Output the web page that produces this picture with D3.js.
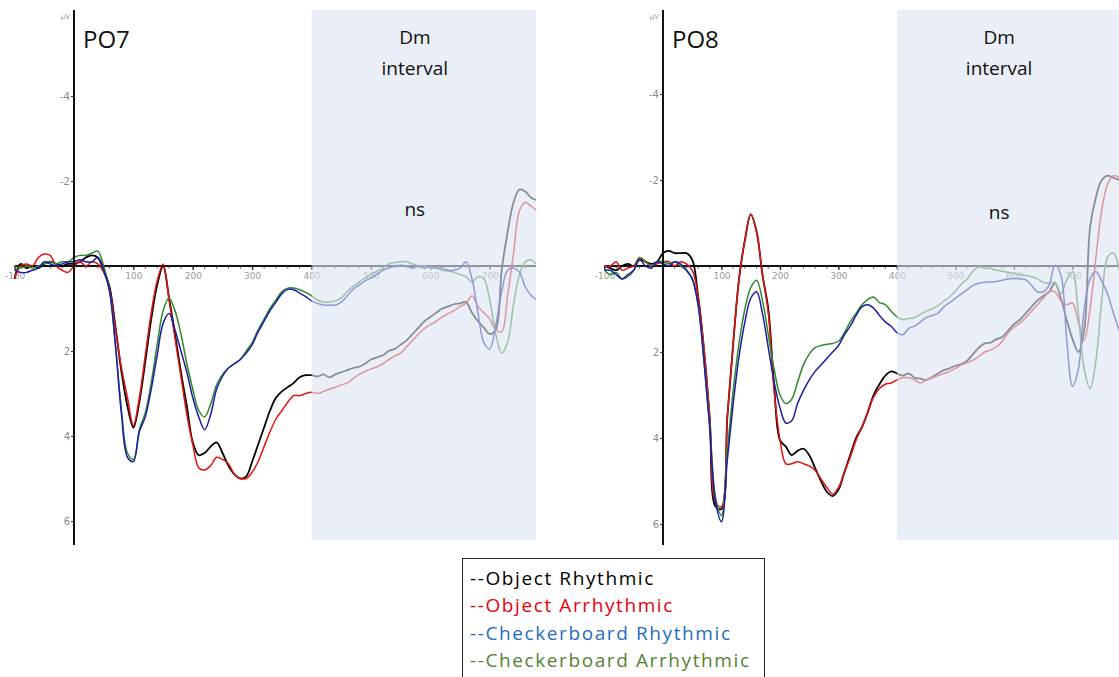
<!DOCTYPE html>
<html>
<head>
<meta charset="utf-8">
<script src="https://cdn.jsdelivr.net/npm/d3@7"></script>
<style>
  html, body { margin: 0; padding: 0; background: #ffffff; }
  svg { display: block; }
</style>
</head>
<body>
<svg id="chart" width="1119" height="677"></svg>
<script>
// ---- sampling grid (ms) ----
const times = [-100,-90,-80,-70,-60,-50,-40,-30,-20,-10,0,10,20,30,40,50,60,70,80,90,100,110,120,130,140,150,160,170,180,190,200,210,220,230,240,250,260,270,280,290,300,310,320,330,340,350,360,370,380,390,400,410,420,430,440,450,460,470,480,490,500,510,520,530,540,550,560,570,580,590,600,610,620,630,640,650,660,670,680,690,700,710,720,730,740,750,760,770,780];

// ---- series names / legend ----
const seriesNames = ["Object Rhythmic", "Object Arrhythmic", "Checkerboard Rhythmic", "Checkerboard Arrhythmic"];
const panelNames = ["PO7", "PO8"];

// ---- PO7 (µV) ----
const po7ObjectRhythmic = [0.3,-0.05,0.05,0.0,0.05,-0.05,-0.1,-0.05,0.0,-0.05,-0.05,-0.1,-0.2,-0.25,-0.2,0.1,0.5,1.45,2.5,3.3,3.8,3.2,2.25,1.25,0.45,0.0,0.75,1.6,2.5,3.3,4.15,4.45,4.4,4.25,4.15,4.4,4.7,4.9,5.0,4.95,4.6,4.2,3.8,3.4,3.1,2.95,2.85,2.75,2.62,2.57,2.57,2.6,2.55,2.62,2.55,2.5,2.45,2.4,2.37,2.3,2.2,2.15,2.1,2.0,1.95,1.85,1.75,1.6,1.45,1.3,1.2,1.1,1.0,0.95,0.9,0.88,0.85,1.1,1.3,1.45,1.6,1.5,0.1,-0.8,-1.5,-1.8,-1.75,-1.6,-1.55];
const po7ObjectArrhythmic = [0.3,0.0,-0.05,0.0,-0.2,-0.28,-0.25,0.0,0.1,0.15,0.0,-0.1,0.0,-0.1,-0.05,0.15,0.55,1.5,2.4,3.1,3.75,3.1,2.1,1.1,0.35,-0.05,0.8,1.7,2.6,3.5,4.2,4.75,4.8,4.7,4.5,4.55,4.65,4.9,5.0,5.0,4.85,4.6,4.25,3.9,3.6,3.4,3.2,3.05,3.05,3.0,2.97,3.0,2.95,2.9,2.85,2.8,2.75,2.65,2.55,2.48,2.42,2.37,2.3,2.2,2.12,2.05,1.9,1.75,1.6,1.47,1.38,1.3,1.2,1.12,1.05,0.95,0.88,0.7,0.95,1.1,1.25,1.5,1.55,0.7,-0.3,-1.3,-1.5,-1.4,-1.3];
const po7CheckerRhythmic = [0.1,0.15,0.15,0.1,0.05,-0.1,-0.05,0.0,-0.05,-0.1,-0.1,-0.15,-0.1,-0.1,-0.2,0.1,0.6,1.9,3.5,4.5,4.6,3.9,3.55,2.9,2.1,1.35,1.12,1.5,2.0,2.5,3.1,3.55,3.85,3.5,2.9,2.6,2.4,2.3,2.2,2.05,1.85,1.55,1.3,1.05,0.85,0.65,0.55,0.56,0.64,0.72,0.82,0.88,0.92,0.92,0.92,0.85,0.7,0.55,0.45,0.35,0.28,0.2,0.1,0.05,0.0,-0.02,0.0,0.05,0.0,0.05,0.0,0.05,0.05,0.1,0.1,0.05,-0.1,0.3,1.1,1.8,1.95,1.4,0.6,0.1,0.05,0.15,0.5,0.7,0.8];
const po7CheckerArrhythmic = [0.0,0.05,0.0,0.05,0.0,-0.05,-0.1,-0.05,-0.1,-0.1,-0.2,-0.25,-0.25,-0.3,-0.35,0.0,0.6,1.9,3.4,4.4,4.55,3.85,3.45,2.75,1.85,1.05,0.75,1.05,1.6,2.3,2.9,3.4,3.55,3.25,2.8,2.55,2.4,2.3,2.2,2.0,1.8,1.5,1.25,1.0,0.8,0.6,0.52,0.52,0.56,0.62,0.7,0.8,0.85,0.84,0.82,0.75,0.6,0.48,0.38,0.28,0.2,0.12,0.05,-0.05,-0.08,-0.1,-0.1,-0.05,0.0,0.0,0.05,0.05,0.1,0.12,0.15,0.2,0.25,0.38,0.25,0.3,0.8,1.6,2.05,1.8,0.9,0.2,-0.1,-0.14,0.0];

// ---- PO8 (µV) ----
const po8ObjectRhythmic = [0.0,0.05,0.1,0.0,-0.05,0.0,-0.15,-0.1,-0.05,-0.1,-0.3,-0.35,-0.3,-0.3,-0.3,-0.15,0.7,1.95,3.6,5.6,5.65,3.5,1.8,0.3,-0.6,-1.2,-0.8,0.2,1.0,2.8,4.05,4.2,4.4,4.3,4.25,4.4,4.7,5.0,5.25,5.35,5.2,4.8,4.4,4.0,3.75,3.4,3.0,2.75,2.55,2.45,2.5,2.55,2.5,2.6,2.62,2.65,2.58,2.5,2.42,2.38,2.32,2.28,2.2,2.05,1.9,1.8,1.78,1.7,1.65,1.5,1.35,1.25,1.1,0.95,0.8,0.7,0.6,0.4,0.75,1.25,1.7,2.0,1.5,-0.9,-1.6,-2.0,-2.1,-2.05,-2.0];
const po8ObjectArrhythmic = [0.0,0.0,-0.1,0.1,0.05,0.0,-0.2,-0.1,0.0,-0.05,-0.1,-0.1,0.0,-0.1,-0.05,0.1,0.7,1.9,3.5,5.5,5.6,3.5,1.8,0.3,-0.6,-1.2,-0.8,0.2,1.1,2.9,4.05,4.6,4.6,4.55,4.6,4.65,4.75,4.95,5.15,5.3,5.15,4.8,4.45,4.05,3.75,3.4,3.05,2.85,2.75,2.72,2.65,2.6,2.6,2.65,2.72,2.65,2.6,2.55,2.5,2.45,2.38,2.3,2.25,2.19,2.1,2.0,1.95,1.88,1.75,1.55,1.42,1.33,1.2,1.05,0.9,0.75,0.6,0.6,0.8,0.9,0.86,1.3,1.72,1.0,-0.2,-1.3,-1.9,-2.1,-2.05];
const po8CheckerRhythmic = [0.1,0.1,0.2,0.3,0.2,0.1,-0.15,0.0,0.05,-0.1,-0.05,0.0,-0.1,-0.05,0.1,0.3,0.9,2.2,3.8,5.5,5.95,4.5,3.2,2.1,1.3,0.75,0.6,1.1,1.9,2.7,3.3,3.65,3.6,3.2,2.9,2.65,2.45,2.3,2.15,2.0,1.85,1.6,1.4,1.15,0.95,0.9,0.98,1.15,1.3,1.4,1.55,1.6,1.45,1.4,1.3,1.2,1.15,1.1,0.95,0.85,0.75,0.65,0.55,0.45,0.4,0.38,0.37,0.36,0.33,0.3,0.29,0.3,0.32,0.45,0.6,0.6,0.45,-0.02,0.2,1.7,2.8,2.4,1.0,0.3,0.13,0.35,0.65,1.1,1.5];
const po8CheckerArrhythmic = [0.1,0.2,0.15,0.3,0.25,0.1,-0.2,-0.1,0.0,-0.1,-0.1,-0.05,-0.1,0.0,0.1,0.3,0.9,2.2,3.7,5.4,5.8,4.3,2.9,1.8,1.0,0.5,0.33,0.8,1.6,2.4,3.0,3.2,3.1,2.7,2.3,2.05,1.9,1.85,1.82,1.8,1.75,1.55,1.3,1.1,0.9,0.78,0.72,0.85,0.9,1.05,1.18,1.25,1.22,1.2,1.12,1.05,1.0,0.92,0.82,0.72,0.58,0.42,0.3,0.12,0.02,0.05,0.06,0.1,0.12,0.15,0.17,0.2,0.22,0.25,0.3,0.38,0.4,0.38,0.64,0.33,0.13,1.1,2.4,2.85,2.2,0.8,-0.2,-0.3,0.1];

// ---- ticks / annotations ----
const xTickLabels = [-100,0,100,200,300,400,500,600,700,800];
const yTickLabels = [-4,-2,2,4,6];
const dmInterval = [400, 800];
const dmText = ["Dm", "interval"];
const sigText = "ns";

// ---- styles ----
const lineColors = ["#000000", "#e3140f", "#1c1ca8", "#2f8a2c"];
const legendColors = ["#000000", "#e8000b", "#1f6dbf", "#548235"];

const svg = d3.select("#chart");
const W = 1119, H = 677;

const panels = [
  { name: panelNames[0], data: [po7ObjectRhythmic, po7ObjectArrhythmic, po7CheckerRhythmic, po7CheckerArrhythmic],
    x0: 74, pxPerMs: 0.594, right: 536, y0: 266, pxPerUv: 42.5 },
  { name: panelNames[1], data: [po8ObjectRhythmic, po8ObjectArrhythmic, po8CheckerRhythmic, po8CheckerArrhythmic],
    x0: 663, pxPerMs: 0.585, right: 1119, y0: 266, pxPerUv: 43 }
];
const drawOrder = [0, 1, 3, 2];
const fontMain = "'Open Sans', 'Noto Sans', sans-serif";

panels.forEach((p, pi) => {
  const x = d3.scaleLinear().domain([0, 100]).range([p.x0, p.x0 + 100 * p.pxPerMs]);
  const y = d3.scaleLinear().domain([0, 1]).range([p.y0, p.y0 + p.pxPerUv]);
  const left = x(-100);
  const top = 10, bottom = 545;
  const g = svg.append("g");

  const clipId = "clip" + pi;
  svg.append("clipPath").attr("id", clipId).append("rect")
    .attr("x", 0).attr("y", 0).attr("width", p.right).attr("height", H);

  // x axis (zero line)
  g.append("line").attr("x1", left).attr("x2", p.right).attr("y1", y(0)).attr("y2", y(0))
    .attr("stroke", "#111").attr("stroke-width", 2);

  // minor ticks
  const minor = d3.range(-100, 801, 20);
  g.append("g").attr("clip-path", `url(#${clipId})`).selectAll("line").data(minor).join("line")
    .attr("x1", d => x(d)).attr("x2", d => x(d)).attr("y1", y(0)).attr("y2", y(0) + 2.5)
    .attr("stroke", "#444").attr("stroke-width", 1);

  // x axis labels (only those that fit inside the panel)
  const fitting = xTickLabels.filter(d => x(d) + 8 <= p.right);
  const xAxis = d3.axisBottom(x).tickValues(fitting).tickSize(4).tickFormat(d => d === 0 ? "" : String(d));
  const xa = g.append("g").attr("transform", `translate(0,${y(0)})`).call(xAxis);
  xa.select(".domain").remove();
  xa.selectAll(".tick line").attr("stroke", "#222").attr("stroke-width", 1.2);
  xa.selectAll(".tick text").attr("fill", "#9a9a9a").attr("font-size", 9)
    .attr("font-family", "'DejaVu Sans', sans-serif").attr("y", 7);

  // series lines
  const line = d3.line().x((d, i) => x(times[i])).y(d => y(d)).curve(d3.curveCatmullRom.alpha(0.5));
  const lg = g.append("g").attr("clip-path", `url(#${clipId})`);
  drawOrder.forEach(si => {
    lg.append("path").datum(p.data[si]).attr("d", line)
      .attr("fill", "none").attr("stroke", lineColors[si])
      .attr("stroke-width", si === 0 ? 1.8 : 1.5).attr("stroke-linejoin", "round");
  });

  // y axis
  g.append("line").attr("x1", p.x0).attr("x2", p.x0).attr("y1", top).attr("y2", bottom)
    .attr("stroke", "#111").attr("stroke-width", 2);
  const yAxis = d3.axisLeft(y).tickValues(yTickLabels).tickSize(3).tickFormat(d => String(d));
  const ya = g.append("g").attr("transform", `translate(${p.x0},0)`).call(yAxis);
  ya.select(".domain").remove();
  ya.selectAll(".tick line").attr("stroke", "#333");
  ya.selectAll(".tick text").attr("fill", "#8a8a8a").attr("font-size", 10)
    .attr("font-family", "'DejaVu Sans', sans-serif").attr("x", -4);
  g.append("text").attr("x", p.x0 - 4).attr("y", 19).attr("text-anchor", "end")
    .attr("font-size", 7).attr("fill", "#999").attr("font-family", "'DejaVu Sans', sans-serif").text("µV");

  // Dm interval shading (overlay, fades what lies under it)
  const sx = x(dmInterval[0]);
  g.append("rect").attr("x", sx).attr("y", top).attr("width", p.right - sx).attr("height", 540 - top)
    .attr("fill", "#dce3f2").attr("fill-opacity", 0.62);

  const cx = sx + (p.right - sx) * 0.46;
  g.append("text").attr("x", cx).attr("y", 44).attr("text-anchor", "middle")
    .attr("font-family", fontMain).attr("font-size", 19).attr("fill", "#111").text(dmText[0]);
  g.append("text").attr("x", cx).attr("y", 75).attr("text-anchor", "middle")
    .attr("font-family", fontMain).attr("font-size", 19).attr("fill", "#111").text(dmText[1]);
  g.append("text").attr("x", cx).attr("y", 216 + pi * 3).attr("text-anchor", "middle")
    .attr("font-family", fontMain).attr("font-size", 19).attr("fill", "#111").text(sigText);

  // panel label
  g.append("text").attr("x", p.x0 + 9).attr("y", 48)
    .attr("font-family", fontMain).attr("font-size", 24).attr("fill", "#111").text(p.name);
});

// legend
const lgd = svg.append("g");
lgd.append("rect").attr("x", 462.5).attr("y", 558.5).attr("width", 302).attr("height", 130)
  .attr("fill", "#fff").attr("stroke", "#222").attr("stroke-width", 1);
lgd.selectAll("text").data(seriesNames).join("text")
  .attr("x", 470).attr("y", (d, i) => 585 + i * 27.3)
  .attr("font-family", fontMain).attr("font-size", 19).attr("letter-spacing", 1.6)
  .attr("fill", (d, i) => legendColors[i]).text(d => "--" + d);
</script>
</body>
</html>
